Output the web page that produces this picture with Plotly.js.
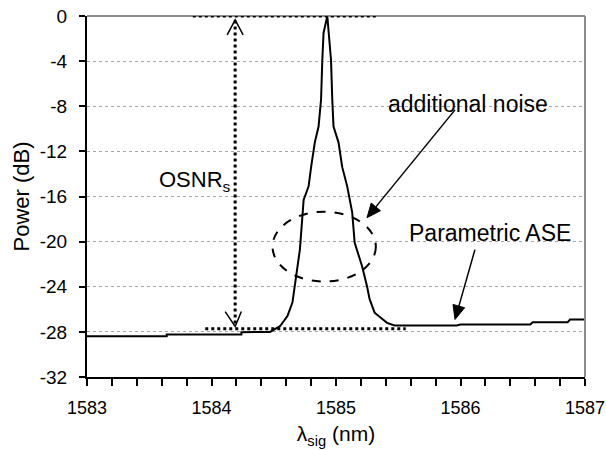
<!DOCTYPE html>
<html>
<head>
<meta charset="utf-8">
<script src="https://cdn.plot.ly/plotly-3.0.1.min.js"></script>
<style>html,body{margin:0;padding:0;background:#fff;}#chart{width:606px;height:450px;}</style>
</head>
<body>
<div id="chart"></div>
<script>
// Measured spectrum (wavelength in nm, power in dB)
var wavelength = [1583.00, 1583.64, 1583.64, 1584.24, 1584.24, 1584.47, 1584.55, 1584.61, 1584.65, 1584.67,
  1584.68, 1584.71, 1584.74, 1584.78, 1584.80, 1584.83, 1584.86, 1584.88, 1584.89, 1584.90,
  1584.93, 1584.94, 1584.96, 1584.97, 1584.98, 1585.02, 1585.05, 1585.09, 1585.11, 1585.13,
  1585.15, 1585.21, 1585.25, 1585.27, 1585.31, 1585.41, 1585.47, 1585.97, 1586.00, 1586.56,
  1586.58, 1586.86, 1586.88, 1587.00];
var power = [-28.38, -28.38, -28.23, -28.23, -28.03, -28.0, -27.5, -26.6, -25.4, -23.96,
  -23.07, -20.7, -16.3, -15.1, -13.4, -11.2, -9.8, -7.4, -3.9, -1.5,
  0, -1.5, -3.9, -7.4, -9.8, -11.2, -13.4, -15.1, -16.3, -17.4,
  -20.1, -22.2, -24.0, -25.1, -26.3, -27.2, -27.43, -27.43, -27.35, -27.35,
  -27.15, -27.15, -26.9, -26.9];

// Axis ticks
var xTicks = [1583, 1584, 1585, 1586, 1587];
var yTicks = [0, -4, -8, -12, -16, -20, -24, -28, -32];

// OSNR reference levels
var peakLevel = 0;
var floorLevel = -27.73;
var osnrWavelength = 1584.19;

var FONT = '"Liberation Sans", Arial, sans-serif';

var shapes = [
  // gray chart frame, top and right
  {type:'line', xref:'paper', yref:'paper', x0:0, x1:1, y0:1, y1:1, line:{color:'#8c8c8c', width:2}},
  {type:'line', xref:'paper', yref:'paper', x0:1, x1:1, y0:0, y1:1, line:{color:'#8c8c8c', width:2}},
  // dotted level lines
  {type:'line', xref:'x', yref:'y', x0:1583.85, x1:1585.32, y0:peakLevel, y1:peakLevel, line:{color:'#000', width:3, dash:'dot'}},
  {type:'line', xref:'x', yref:'y', x0:1583.95, x1:1585.56, y0:floorLevel, y1:floorLevel, line:{color:'#000', width:3, dash:'dot'}},
  // vertical OSNR arrow
  {type:'line', xref:'x', yref:'y', x0:osnrWavelength, x1:osnrWavelength, y0:-0.4, y1:-27.5, line:{color:'#000', width:3, dash:'dot'}},
  {type:'path', xref:'x', yref:'y', path:'M 1584.126,-1.68 L 1584.19,-0.35 L 1584.254,-1.68', line:{color:'#000', width:1.5}},
  {type:'path', xref:'x', yref:'y', path:'M 1584.11,-26.2 L 1584.19,-27.52 L 1584.24,-26.2', line:{color:'#000', width:1.5}},
  // dashed ellipse
  {type:'circle', xref:'x', yref:'y', x0:1584.49, x1:1585.32, y0:-23.54, y1:-17.35, line:{color:'#000', width:2, dash:'dash'}},
  // arrow to the "additional noise"
  {type:'line', xref:'x', yref:'y', x0:1585.956, y0:-8.32, x1:1585.320, y1:-16.92, line:{color:'#000', width:1.5}},
  {type:'path', xref:'x', yref:'y', path:'M 1585.249,-17.876 L 1585.357,-17.26 L 1585.283,-16.58 Z', fillcolor:'#000', line:{color:'#000', width:1}},
  // arrow to the parametric ASE floor
  {type:'line', xref:'x', yref:'y', x0:1586.116, y0:-20.71, x1:1585.987, y1:-25.72, line:{color:'#000', width:1.5}},
  {type:'path', xref:'x', yref:'y', path:'M 1585.956,-26.9 L 1586.033,-25.86 L 1585.940,-25.57 Z', fillcolor:'#000', line:{color:'#000', width:1}}
];

var annotations = [
  {x:1583.56, y:-14.6, xref:'x', yref:'y', text:'OSNR<sub>s</sub>', showarrow:false, xanchor:'left', yanchor:'middle', font:{family:FONT, size:22, color:'#000'}},
  {x:1586.06, y:-7.79, xref:'x', yref:'y', text:'additional noise', showarrow:false, xanchor:'center', yanchor:'middle', font:{family:FONT, size:23, color:'#000'}},
  {x:1586.24, y:-19.2, xref:'x', yref:'y', text:'Parametric ASE', showarrow:false, xanchor:'center', yanchor:'middle', font:{family:FONT, size:23, color:'#000'}}
];

var trace = {
  x: wavelength, y: power, type:'scatter', mode:'lines',
  line:{color:'#000', width:2}, hoverinfo:'skip', showlegend:false
};

var layout = {
  width:606, height:450,
  margin:{l:87, r:21, t:16, b:72.5},
  paper_bgcolor:'#fff', plot_bgcolor:'#fff',
  font:{family:FONT, color:'#000'},
  showlegend:false,
  xaxis:{
    range:[1583, 1587], tickvals:xTicks, ticktext:xTicks.map(String),
    ticks:'outside', ticklen:7, tickwidth:2, tickcolor:'#000',
    minor:{dtick:0.2, ticks:'outside', ticklen:7, tickwidth:2, tickcolor:'#000', showgrid:false},
    showline:true, linecolor:'#000', linewidth:2, showgrid:false, zeroline:false,
    tickfont:{family:FONT, size:18, color:'#000'}, ticklabelstandoff:6,
    title:{text:'λ<sub>sig</sub> (nm)', font:{family:FONT, size:21, color:'#000'}, standoff:10}
  },
  yaxis:{
    range:[-32, 0], tickvals:yTicks, ticktext:yTicks.map(String),
    ticks:'outside', ticklen:6, tickwidth:2, tickcolor:'#000',
    showline:true, linecolor:'#000', linewidth:2,
    showgrid:true, gridcolor:'#a6a6a6', gridwidth:1, griddash:'dot', zeroline:false,
    tickfont:{family:FONT, size:19, color:'#000'}, ticklabelstandoff:8,
    title:{text:'Power (dB)', font:{family:FONT, size:22, color:'#000'}, standoff:4}
  },
  shapes:shapes,
  annotations:annotations
};

Plotly.newPlot('chart', [trace], layout, {staticPlot:true, displayModeBar:false});
</script>
</body>
</html>
